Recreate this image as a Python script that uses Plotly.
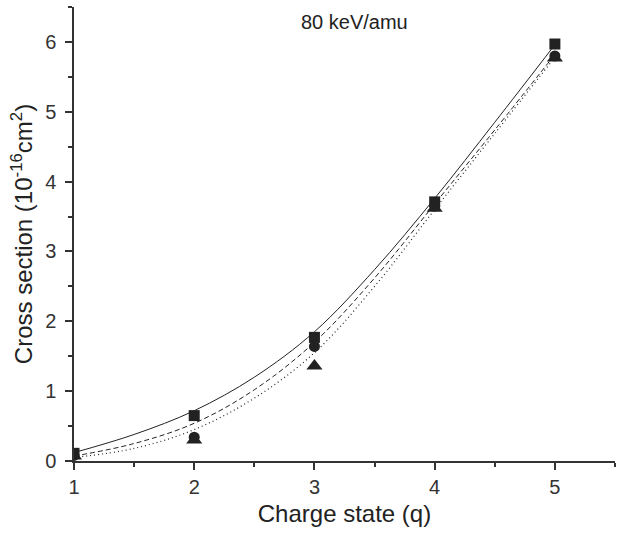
import plotly.graph_objects as go

# Data points (Charge state q vs cross section, 10^-16 cm^2)
q = [1, 2, 3, 4, 5]
sq_vals = [0.11, 0.65, 1.77, 3.71, 5.97]
ci_vals = [0.08, 0.34, 1.64, 3.65, 5.80]
tr_vals = [0.07, 0.30, 1.36, 3.62, 5.77]

# Fit curves
q_fit = [1, 1.5, 2, 2.5, 3, 3.5, 4, 4.5, 5]
solid_fit = [0.12, 0.38, 0.72, 1.20, 1.85, 2.74, 3.76, 4.85, 5.96]
dash_fit = [0.07, 0.25, 0.54, 1.02, 1.70, 2.62, 3.68, 4.74, 5.82]
dot_fit = [0.05, 0.18, 0.45, 0.90, 1.55, 2.50, 3.60, 4.69, 5.78]

x_ticks = [1, 2, 3, 4, 5]
y_ticks = [0, 1, 2, 3, 4, 5, 6]

ink = "#222222"
FONT = "Liberation Sans, Arial"
fig = go.Figure()
fig.add_trace(go.Scatter(x=q_fit, y=solid_fit, mode="lines", line=dict(color=ink, width=1, shape="spline"), showlegend=False))
fig.add_trace(go.Scatter(x=q_fit, y=dash_fit, mode="lines", line=dict(color=ink, width=1, dash="5px,3px", shape="spline"), showlegend=False))
fig.add_trace(go.Scatter(x=q_fit, y=dot_fit, mode="lines", line=dict(color=ink, width=1.2, dash="1px,3px", shape="spline"), showlegend=False))
fig.add_trace(go.Scatter(x=q, y=tr_vals, mode="markers", marker=dict(symbol="triangle-up", size=14, color=ink), showlegend=False))
fig.add_trace(go.Scatter(x=q, y=ci_vals, mode="markers", marker=dict(symbol="circle", size=11, color=ink), showlegend=False))
fig.add_trace(go.Scatter(x=q, y=sq_vals, mode="markers", marker=dict(symbol="square", size=11, color=ink), showlegend=False))

fig.add_annotation(x=3.33, y=6.28, text="80 keV/amu", showarrow=False,
                   font=dict(size=20, color="#222", family=FONT))

axis_common = dict(showline=True, linecolor="#333", linewidth=1.5, showgrid=False, zeroline=False,
                   ticks="outside", tickcolor="#333", tickwidth=1.5, ticklen=7, automargin=False,
                   tickfont=dict(size=20, color="#333", family=FONT),
                   minor=dict(ticks="outside", ticklen=4, tickcolor="#333", tickwidth=1.5, dtick=0.5))

fig.update_layout(
    width=626, height=534,
    margin=dict(l=74, r=11, t=7, b=73),
    plot_bgcolor="white", paper_bgcolor="white",
    xaxis=dict(range=[1, 5.5], tickvals=x_ticks, title=dict(text="Charge state (q)", font=dict(size=24, color="#222", family=FONT), standoff=8), **axis_common),
    yaxis=dict(range=[0, 6.5], tickvals=y_ticks, ticklabelstandoff=5, title=dict(text="Cross section (10<sup>-16</sup>cm<sup>2</sup>)", font=dict(size=24, color="#222", family=FONT), standoff=6), **axis_common),
)
fig.update_xaxes(minor=dict(tick0=1))
fig.update_yaxes(minor=dict(tick0=0))

fig.write_html("out.html")
